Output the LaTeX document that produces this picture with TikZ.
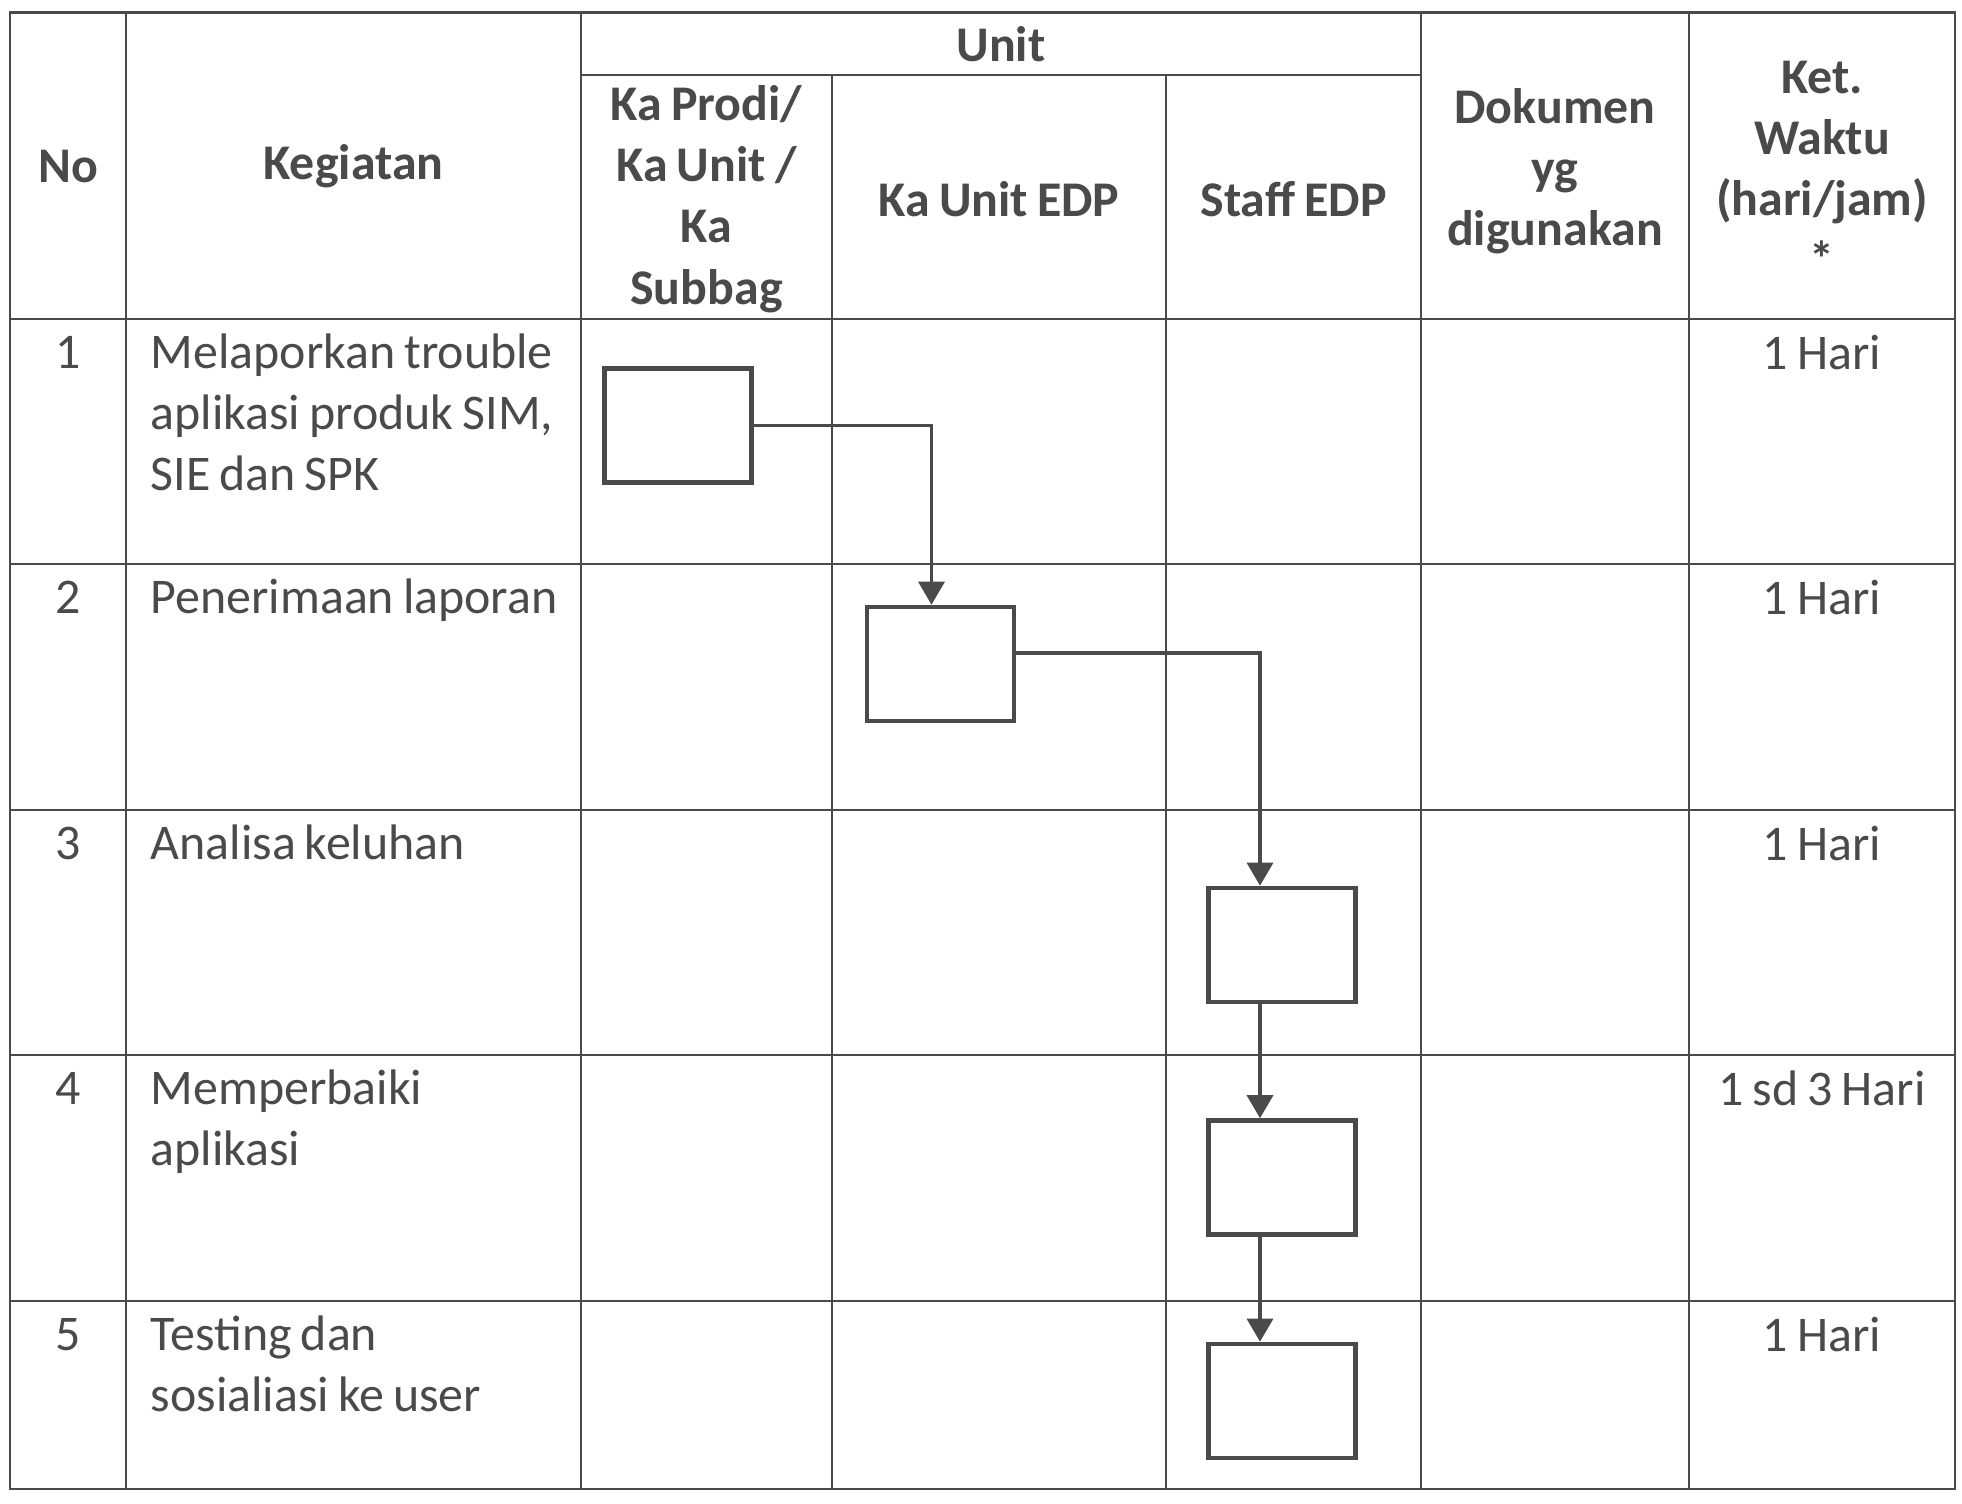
\documentclass[tikz,border=0pt]{standalone}
\usepackage{fontspec}
\setmainfont{Carlito}[WordSpace = 0.8]
\usetikzlibrary{arrows.meta}
\definecolor{ink}{HTML}{4A4A4A}

\begin{document}
\begin{tikzpicture}[every node/.style={font = \fontsize{14.2}{17.4}\selectfont, text = ink}, grid/.style={draw = ink, line width = 0.75pt}, head/.style={font = \fontsize{14.2}{17.4}\selectfont\bfseries, align = center}, cell/.style={anchor = base west, text width = 6cm, align = flush left, inner sep = 0pt}, num/.style={anchor = base}, proc/.style={draw = ink, line width = 1.3pt, minimum width = 1.47cm, minimum height = 1.14cm, inner sep = 0pt}, flow/.style={draw = ink, line width = 0.9pt, -{Triangle[width = 2.6mm, length = 2.3mm]}}]

  \fill[white] (0, 0) rectangle (19.62, -15.03);

  % table lines
  \draw[grid] (0.10, -0.125) rectangle (19.55, -14.89);
  \draw[grid] (1.26, -0.125) -- (1.26, -14.89);
  \draw[grid] (5.81, -0.125) -- (5.81, -14.89);
  \draw[grid] (14.21, -0.125) -- (14.21, -14.89);
  \draw[grid] (16.89, -0.125) -- (16.89, -14.89);
  \draw[grid] (8.32, -0.75) -- (8.32, -14.89);
  \draw[grid] (11.66, -0.75) -- (11.66, -14.89);
  \draw[grid] (5.81, -0.75) -- (14.21, -0.75);
  \draw[grid] (0.10, -3.19) -- (19.55, -3.19);
  \draw[grid] (0.10, -5.64) -- (19.55, -5.64);
  \draw[grid] (0.10, -8.10) -- (19.55, -8.10);
  \draw[grid] (0.10, -10.55) -- (19.55, -10.55);
  \draw[grid] (0.10, -13.01) -- (19.55, -13.01);

  % header
  \node[head] (hno) at (0.68, -1.66) {No};
  \node[head] (hkeg) at (3.535, -1.66) {Kegiatan};
  \node[head] (hunit) at (10.01, -0.44) {Unit};
  \node[head] (hprodi) at (7.065, -1.99) {Ka Prodi/\\Ka Unit /\\Ka\\Subbag};
  \node[head] (hkaedp) at (9.99, -1.99) {Ka Unit EDP};
  \node[head] (hstaff) at (12.935, -1.99) {Staff EDP};
  \node[head] (hdok) at (15.55, -1.71) {Dokumen\\yg\\digunakan};
  \node[head] (hket) at (18.22, -1.69) {Ket.\\Waktu\\(hari/jam)\\*};

  % rows
  \node[num] (n1) at (0.68, -3.68) {1};
  \node[cell] (k1) at (1.50, -3.68) {Melaporkan trouble\\aplikasi produk SIM,\\SIE dan SPK};
  \node[num] (w1) at (18.22, -3.69) {1 Hari};

  \node[num] (n2) at (0.68, -6.13) {2};
  \node[cell] (k2) at (1.50, -6.13) {Penerimaan laporan};
  \node[num] (w2) at (18.22, -6.14) {1 Hari};

  \node[num] (n3) at (0.68, -8.59) {3};
  \node[cell] (k3) at (1.50, -8.59) {Analisa keluhan};
  \node[num] (w3) at (18.22, -8.60) {1 Hari};

  \node[num] (n4) at (0.68, -11.04) {4};
  \node[cell] (k4) at (1.50, -11.04) {Memperbaiki\\aplikasi};
  \node[num] (w4) at (18.22, -11.05) {1 sd 3 Hari};

  \node[num] (n5) at (0.68, -13.50) {5};
  \node[cell] (k5) at (1.50, -13.50) {Testing dan\\sosialiasi ke user};
  \node[num] (w5) at (18.22, -13.51) {1 Hari};

  % flow
  \node[proc] (b1) at (6.78, -4.255) {};
  \node[proc] (b2) at (9.405, -6.64) {};
  \node[proc] (b3) at (12.82, -9.45) {};
  \node[proc] (b4) at (12.82, -11.775) {};
  \node[proc] (b5) at (12.82, -14.01) {};

  \draw[flow] (b1.east) -| ([xshift = -0.09cm]b2.north);
  \draw[flow] ([yshift = 0.11cm]b2.east) -| ([xshift = -0.22cm]b3.north);
  \draw[flow] ([xshift = -0.22cm]b3.south) -- ([xshift = -0.22cm]b4.north);
  \draw[flow] ([xshift = -0.22cm]b4.south) -- ([xshift = -0.22cm]b5.north);

\end{tikzpicture}
\end{document}
